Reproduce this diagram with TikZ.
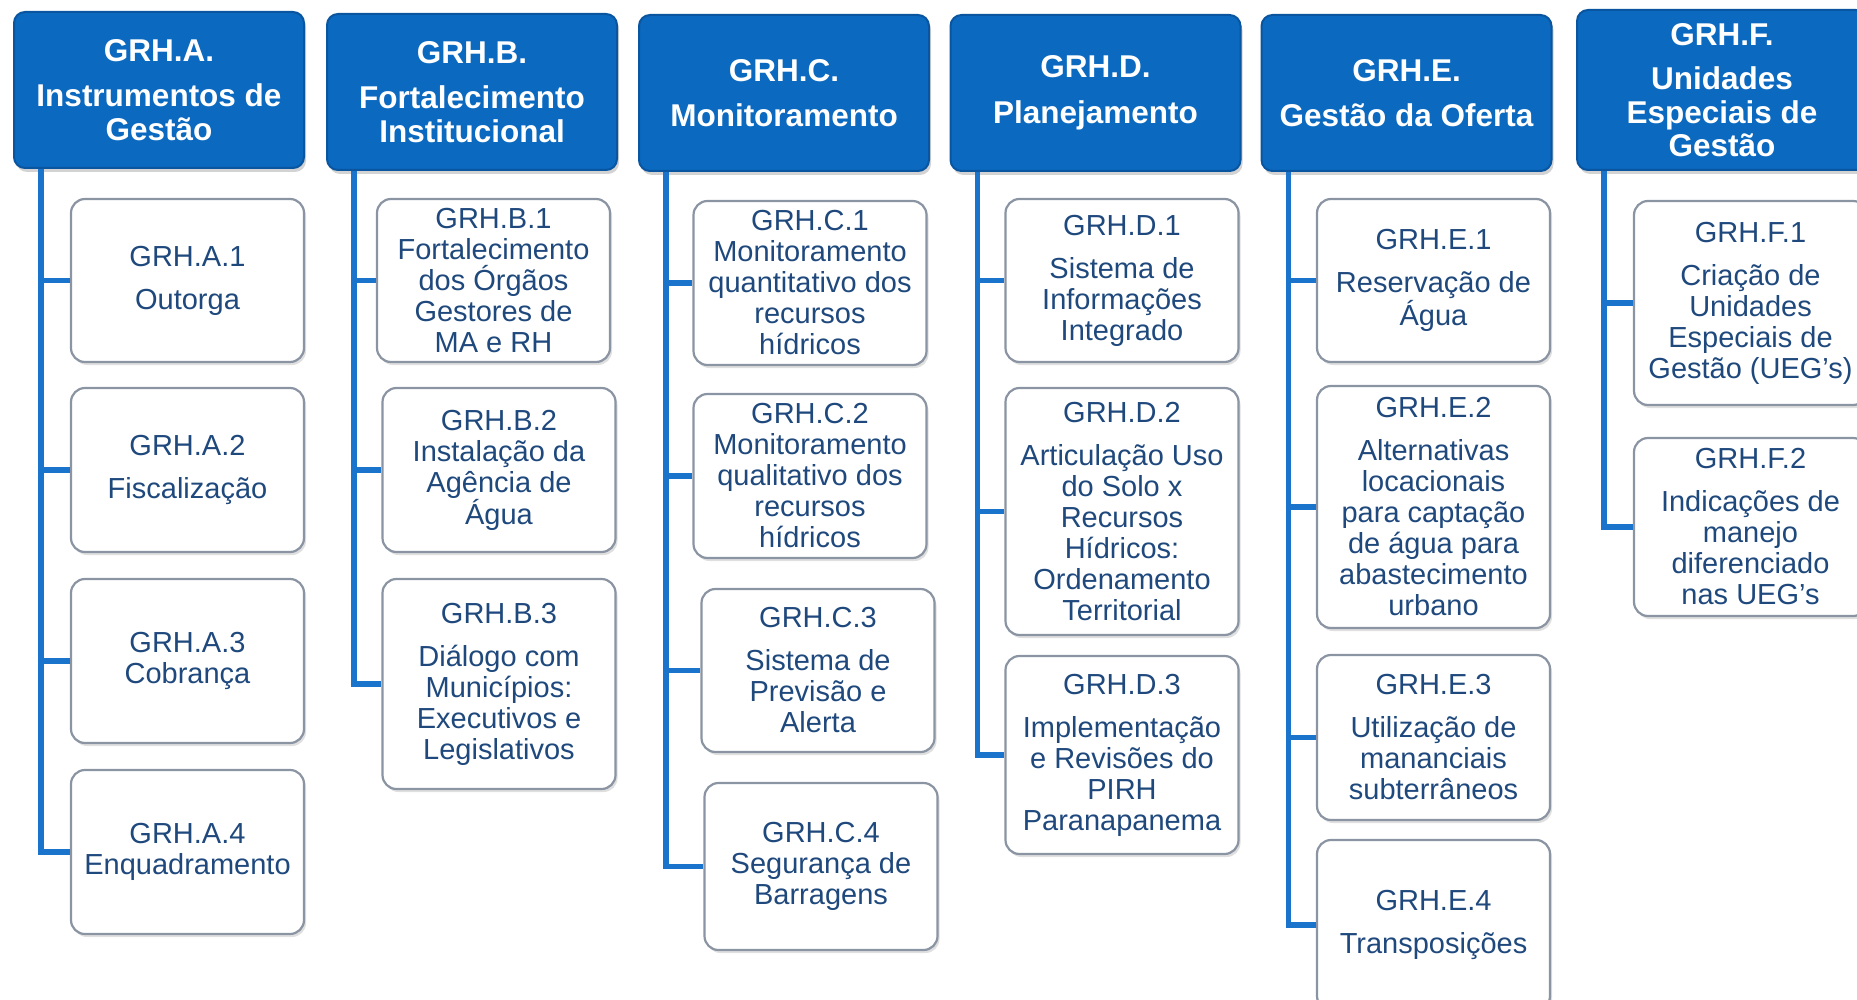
\documentclass[tikz,border=0pt]{standalone}
\usepackage{fontspec}
\setmainfont{Liberation Sans}
\usetikzlibrary{calc,shadows}
\definecolor{headblue}{HTML}{0B69BF}
\definecolor{headedge}{HTML}{0A55A0}
\definecolor{linkblue}{HTML}{1A74CC}
\definecolor{boxedge}{HTML}{8A94A2}
\definecolor{textblue}{HTML}{1F497D}
\tikzset{
  headbox/.style={draw=headedge,line width=2pt,fill=headblue,rounded corners=11pt,text=white,align=center,
    font=\fontsize{31.5}{33.5}\selectfont\bfseries,minimum width=290pt,minimum height=156pt,inner sep=3pt,
    drop shadow={shadow xshift=2pt,shadow yshift=-4pt,opacity=0.35}},
  itembox/.style={draw=boxedge,line width=2.2pt,fill=white,rounded corners=14pt,text=textblue,align=center,
    font=\fontsize{29}{31}\selectfont,minimum width=233pt,inner sep=3pt,
    drop shadow={shadow xshift=2pt,shadow yshift=-3pt,opacity=0.25}},
  link/.style={linkblue,line width=5.5pt}
}
\begin{document}
\begin{tikzpicture}[x=1pt,y=-1pt]
  \useasboundingbox (0,0) rectangle (1857,1000);
  \node[headbox] (A) at (159,90) {GRH.A.\\[12pt]Instrumentos de\\Gestão};
  \node[headbox] (B) at (472,92) {GRH.B.\\[12pt]Fortalecimento\\Institucional};
  \node[headbox] (C) at (784,93) {GRH.C.\\[12pt]Monitoramento};
  \node[headbox] (D) at (1095.5,93) {GRH.D.\\[12pt]Planejamento};
  \node[headbox] (E) at (1406.5,93) {GRH.E.\\[12pt]Gestão da Oferta};
  \node[headbox,minimum height=160pt] (F) at (1722,90) {GRH.F.\\[11pt]Unidades\\Especiais de\\Gestão};
  \node[itembox,minimum height=163pt] (A1) at (187.5,280.5) {GRH.A.1\\[12pt]Outorga};
  \node[itembox,minimum height=164pt] (A2) at (187.5,470) {GRH.A.2\\[12pt]Fiscalização};
  \node[itembox,minimum height=164pt] (A3) at (187.5,661) {GRH.A.3\\Cobrança};
  \node[itembox,minimum height=164pt] (A4) at (187.5,852) {GRH.A.4\\Enquadramento};
  \node[itembox,minimum height=163pt] (B1) at (493.5,280.5) {GRH.B.1\\Fortalecimento\\dos Órgãos\\Gestores de\\MA e RH};
  \node[itembox,minimum height=164pt] (B2) at (499,470) {GRH.B.2\\Instalação da\\Agência de\\Água};
  \node[itembox,minimum height=210pt] (B3) at (499,684) {GRH.B.3\\[12pt]Diálogo com\\Municípios:\\Executivos e\\Legislativos};
  \node[itembox,minimum height=164pt] (C1) at (810,283) {GRH.C.1\\Monitoramento\\quantitativo dos\\recursos\\hídricos};
  \node[itembox,minimum height=164pt] (C2) at (810,476) {GRH.C.2\\Monitoramento\\qualitativo dos\\recursos\\hídricos};
  \node[itembox,minimum height=163pt] (C3) at (818,670.5) {GRH.C.3\\[12pt]Sistema de\\Previsão e\\Alerta};
  \node[itembox,minimum height=167pt] (C4) at (821,866.5) {GRH.C.4\\Segurança de\\Barragens};
  \node[itembox,minimum height=163pt] (D1) at (1122,280.5) {GRH.D.1\\[12pt]Sistema de\\Informações\\Integrado};
  \node[itembox,minimum height=247pt] (D2) at (1122,511.5) {GRH.D.2\\[12pt]Articulação Uso\\do Solo x\\Recursos\\Hídricos:\\Ordenamento\\Territorial};
  \node[itembox,minimum height=198pt] (D3) at (1122,755) {GRH.D.3\\[12pt]Implementação\\e Revisões do\\PIRH\\Paranapanema};
  \node[itembox,minimum height=163pt] (E1) at (1433.5,280.5) {GRH.E.1\\[12pt]Reservação de\\Água};
  \node[itembox,minimum height=242pt] (E2) at (1433.5,507) {GRH.E.2\\[12pt]Alternativas\\locacionais\\para captação\\de água para\\abastecimento\\urbano};
  \node[itembox,minimum height=165pt] (E3) at (1433.5,737.5) {GRH.E.3\\[12pt]Utilização de\\mananciais\\subterrâneos};
  \node[itembox,minimum height=170pt] (E4) at (1433.5,925) {GRH.E.4\\[12pt]Transposições};
  \node[itembox,minimum height=204pt] (F1) at (1750.5,303) {GRH.F.1\\[12pt]Criação de\\Unidades\\Especiais de\\Gestão (UEG’s)};
  \node[itembox,minimum height=178pt] (F2) at (1750.5,527) {GRH.F.2\\[12pt]Indicações de\\manejo\\diferenciado\\nas UEG’s};
  \foreach \col/\last in {A/4,B/3,C/4,D/3,E/4,F/2} {
    \coordinate (\col-top) at ($(\col.south west)+(28,0)$);
    \foreach \i in {1,...,\last} \draw[link] (\col-top) |- (\col\i.west);
  }
\end{tikzpicture}
\end{document}
